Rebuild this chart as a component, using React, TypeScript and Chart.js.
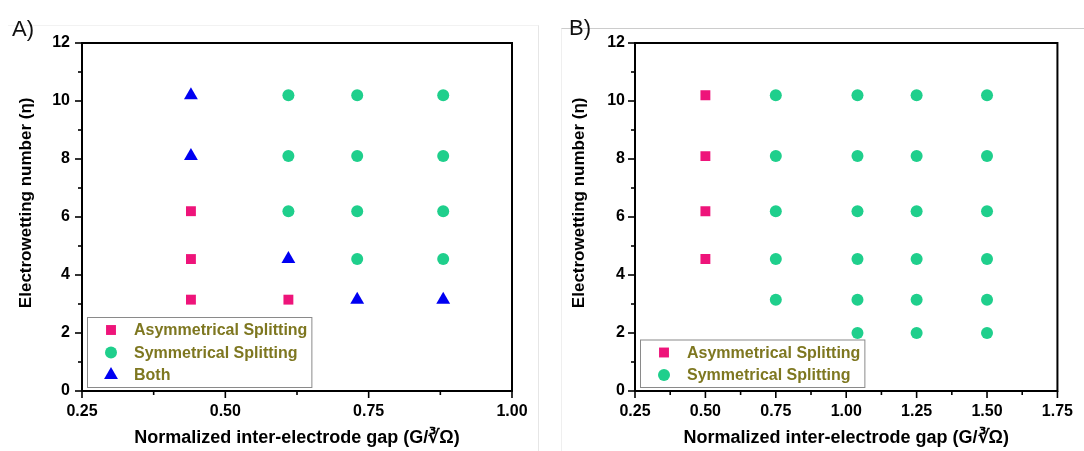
import React, { useEffect, useRef } from "react";
import { Chart, registerables } from "chart.js";

Chart.register(...registerables);

// ---------- Data ----------
// Panel A
const aAsymX = [0.44, 0.44, 0.44, 0.61];
const aAsymY = [6.2, 4.55, 3.15, 3.15];
const aSymX = [0.61, 0.61, 0.61, 0.73, 0.73, 0.73, 0.73, 0.88, 0.88, 0.88, 0.88];
const aSymY = [10.2, 8.1, 6.2, 10.2, 8.1, 6.2, 4.55, 10.2, 8.1, 6.2, 4.55];
const aBothX = [0.44, 0.44, 0.61, 0.73, 0.88];
const aBothY = [10.2, 8.1, 4.55, 3.15, 3.15];
// Panel B
const bAsymX = [0.5, 0.5, 0.5, 0.5];
const bAsymY = [10.2, 8.1, 6.2, 4.55];
const bSymX = [
  0.75, 0.75, 0.75, 0.75, 0.75,
  1.04, 1.04, 1.04, 1.04, 1.04, 1.04,
  1.25, 1.25, 1.25, 1.25, 1.25, 1.25,
  1.5, 1.5, 1.5, 1.5, 1.5, 1.5,
];
const bSymY = [
  10.2, 8.1, 6.2, 4.55, 3.15,
  10.2, 8.1, 6.2, 4.55, 3.15, 2.0,
  10.2, 8.1, 6.2, 4.55, 3.15, 2.0,
  10.2, 8.1, 6.2, 4.55, 3.15, 2.0,
];

const seriesLabels = ["Asymmetrical Splitting", "Symmetrical Splitting", "Both"];
const xTitle = "Normalized inter-electrode gap (G/\u221BΩ)";
// leading spaces nudge the rotated title slightly upward, as in the original
const yTitle = "      Electrowetting number (η)";

const PINK = "#EE147A";
const GREEN = "#1FCF8C";
const BLUE = "#0000F2";
const LEGEND_TEXT = "#7E7720";
const FONT = "'Liberation Sans', Arial, sans-serif";

const zip = (xs: number[], ys: number[]) => xs.map((x, i) => ({ x, y: ys[i] }));

// ---------- Plugins ----------
const framePlugin = {
  id: "frame",
  afterDatasetsDraw(chart: any) {
    const { ctx, chartArea: a, scales } = chart;
    ctx.save();
    ctx.strokeStyle = "#000";
    ctx.lineWidth = 2;
    ctx.strokeRect(a.left, a.top, a.right - a.left, a.bottom - a.top);
    ctx.lineWidth = 1.6;
    const xs = scales.x;
    const ys = scales.y;
    xs.ticks.forEach((t: any) => {
      const px = xs.getPixelForValue(t.value);
      const len = t.label !== "" ? 7 : 4;
      ctx.beginPath();
      ctx.moveTo(px, a.bottom);
      ctx.lineTo(px, a.bottom + len);
      ctx.stroke();
    });
    ys.ticks.forEach((t: any) => {
      const py = ys.getPixelForValue(t.value);
      const len = t.label !== "" ? 7 : 4;
      ctx.beginPath();
      ctx.moveTo(a.left, py);
      ctx.lineTo(a.left - len, py);
      ctx.stroke();
    });
    ctx.restore();
  },
};

function drawMarker(ctx: CanvasRenderingContext2D, style: string, x: number, y: number, r: number, color: string) {
  ctx.fillStyle = color;
  ctx.beginPath();
  if (style === "rect") {
    const s = Math.SQRT1_2 * r;
    ctx.rect(x - s, y - s, 2 * s, 2 * s);
  } else if (style === "triangle") {
    ctx.moveTo(x, y - r);
    ctx.lineTo(x + Math.sin((2 * Math.PI) / 3) * r, y + 0.5 * r);
    ctx.lineTo(x - Math.sin((2 * Math.PI) / 3) * r, y + 0.5 * r);
    ctx.closePath();
  } else {
    ctx.arc(x, y, r, 0, Math.PI * 2);
  }
  ctx.fill();
}

const boxLegendPlugin = {
  id: "boxLegend",
  afterDraw(chart: any) {
    const { ctx, chartArea: a } = chart;
    const ds = chart.data.datasets;
    ctx.save();
    ctx.font = `bold 16px ${FONT}`;
    let maxW = 0;
    ds.forEach((d: any) => {
      maxW = Math.max(maxW, ctx.measureText(d.label).width);
    });
    const rowH = 22.5;
    const padTop = 13;
    const padBottom = 12;
    const h = padTop + rowH * (ds.length - 1) + padBottom;
    const w = 47 + maxW + 4;
    const left = a.left + 5;
    const bottom = a.bottom - 4;
    const top = bottom - h;
    ctx.fillStyle = "#fff";
    ctx.fillRect(left, top, w, h);
    ctx.strokeStyle = "#8a8a8a";
    ctx.lineWidth = 1;
    ctx.strokeRect(left + 0.5, top + 0.5, w, h);
    ds.forEach((d: any, i: number) => {
      const cy = top + padTop + rowH * i;
      drawMarker(ctx, d.pointStyle, left + 24, cy, d.pointRadius, d.backgroundColor);
      ctx.fillStyle = LEGEND_TEXT;
      ctx.textBaseline = "middle";
      ctx.textAlign = "left";
      ctx.fillText(d.label, left + 47, cy + 1);
    });
    ctx.restore();
  },
};

// ---------- Chart component ----------
type Panel = {
  datasets: any[];
  xMax: number;
  yWidth: number;
  padRight: number;
  titlePad: number;
  tickPad: number;
};

function ScatterPanel({ panel, width, height }: { panel: Panel; width: number; height: number }) {
  const ref = useRef<HTMLCanvasElement>(null);
  useEffect(() => {
    if (!ref.current) return;
    const chart = new Chart(ref.current, {
      type: "scatter",
      data: { datasets: panel.datasets },
      options: {
        animation: false,
        responsive: false,
        devicePixelRatio: 1,
        layout: { padding: { left: 0, top: 43, right: panel.padRight, bottom: 0 }, autoPadding: false },
        plugins: { legend: { display: false }, tooltip: { enabled: false } },
        scales: {
          x: {
            type: "linear",
            min: 0.25,
            max: panel.xMax,
            afterFit: (s: any) => {
              s.height = 60;
            },
            grid: { display: false, drawTicks: false },
            border: { display: false },
            ticks: {
              stepSize: 0.125,
              autoSkip: false,
              maxRotation: 0,
              padding: 11,
              color: "#000",
              font: { family: FONT, weight: "bold", size: 16 },
              callback: (v: any) => {
                const n = Number(v);
                return Math.abs(n * 4 - Math.round(n * 4)) < 1e-6 ? n.toFixed(2) : "";
              },
            },
            title: {
              display: true,
              text: xTitle,
              color: "#000",
              font: { family: FONT, weight: "bold", size: 18 },
              padding: { top: 0, bottom: 2 },
            },
          },
          y: {
            type: "linear",
            min: 0,
            max: 12,
            afterFit: (s: any) => {
              s.width = panel.yWidth;
            },
            grid: { display: false, drawTicks: false },
            border: { display: false },
            ticks: {
              stepSize: 1,
              autoSkip: false,
              padding: panel.tickPad,
              color: "#000",
              font: { family: FONT, weight: "bold", size: 16 },
              callback: (v: any) => (Number(v) % 2 === 0 ? String(v) : ""),
            },
            title: {
              display: true,
              text: yTitle,
              color: "#000",
              font: { family: FONT, weight: "bold", size: 17 },
              padding: { top: panel.titlePad, bottom: 0 },
            },
          },
        },
      } as any,
      plugins: [framePlugin, boxLegendPlugin],
    });
    return () => chart.destroy();
  }, [panel]);
  return <canvas ref={ref} width={width} height={height} style={{ display: "block", width, height }} />;
}

const mk = (label: string, xs: number[], ys: number[], color: string, style: string, r: number) => ({
  label,
  data: zip(xs, ys),
  backgroundColor: color,
  borderColor: color,
  borderWidth: 0,
  pointStyle: style,
  pointRadius: r,
});

const panelA: Panel = {
  datasets: [
    mk(seriesLabels[0], aAsymX, aAsymY, PINK, "rect", 7),
    mk(seriesLabels[1], aSymX, aSymY, GREEN, "circle", 6),
    mk(seriesLabels[2], aBothX, aBothY, BLUE, "triangle", 8),
  ],
  xMax: 1.0,
  yWidth: 82,
  padRight: 28,
  titlePad: 16,
  tickPad: 12,
};

const panelB: Panel = {
  datasets: [
    mk(seriesLabels[0], bAsymX, bAsymY, PINK, "rect", 7),
    mk(seriesLabels[1], bSymX, bSymY, GREEN, "circle", 6),
  ],
  xMax: 1.75,
  yWidth: 95,
  padRight: 18,
  titlePad: 29,
  tickPad: 10,
};

export default function App() {
  return (
    <div style={{ position: "fixed", left: 0, top: 0, width: 1084, height: 451, background: "#fff", overflow: "hidden" }}>
      <div
        style={{
          position: "absolute",
          left: 8,
          top: 25,
          width: 530,
          height: 426,
          borderTop: "1px solid #f2f2f2",
          borderRight: "1px solid #e6e6e6",
        }}
      />
      <div
        style={{
          position: "absolute",
          left: 561,
          top: 28,
          width: 523,
          height: 423,
          borderTop: "1px solid #cccccc",
          borderLeft: "1px solid #efefef",
        }}
      />
      <div style={{ position: "absolute", left: 0, top: 0 }}>
        <ScatterPanel panel={panelA} width={540} height={451} />
      </div>
      <div style={{ position: "absolute", left: 540, top: 0 }}>
        <ScatterPanel panel={panelB} width={544} height={451} />
      </div>
      <div style={{ position: "absolute", left: 12, top: 16, font: `22px ${FONT}`, color: "#111" }}>A)</div>
      <div style={{ position: "absolute", left: 569, top: 15, font: `22px ${FONT}`, color: "#111" }}>B)</div>
    </div>
  );
}
